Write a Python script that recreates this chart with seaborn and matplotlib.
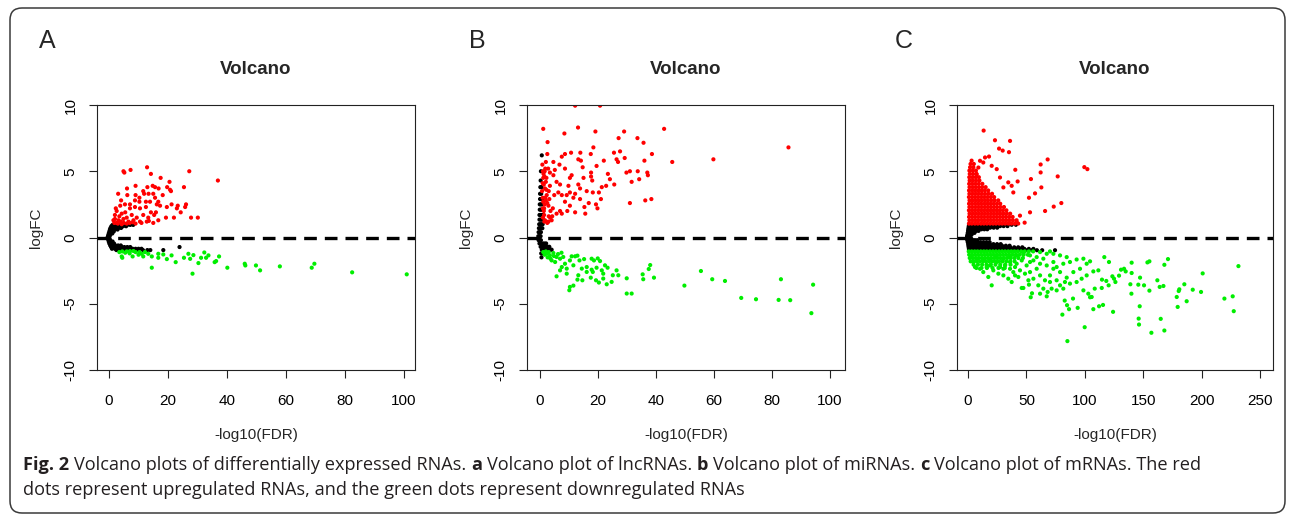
import matplotlib
matplotlib.use("Agg")
import matplotlib.pyplot as plt
import matplotlib.transforms as mtransforms
from matplotlib.patches import FancyBboxPatch
import numpy as np
import pandas as pd
import seaborn as sns

W, H = 1295, 517
sns.set_style("ticks")
plt.rcParams['font.family'] = ['Liberation Sans', 'DejaVu Sans']

# ---------------- data ----------------
PANEL_LETTERS = ["A", "B", "C"]
TITLE = "Volcano"
XLABEL = "-log10(FDR)"
YLABEL = "logFC"
A_XTICKS = [0, 20, 40, 60, 80, 100]
B_XTICKS = [0, 20, 40, 60, 80, 100]
C_XTICKS = [0, 50, 100, 150, 200, 250]
YTICKS = [-10, -5, 0, 5, 10]

# Panel A (lncRNAs)
A_UP = [(4.9, 5.0), (5.2, 4.9), (7.3, 5.1), (12.9, 5.3), (14.2, 4.8), (27.2, 5.0), (36.9, 4.3),
        (17.5, 4.5), (20.5, 4.2), (19.7, 3.8), (25.4, 3.8), (6.1, 3.7), (9.0, 3.9), (11.6, 3.5),
        (13.0, 3.8), (14.8, 3.9), (15.6, 3.8), (16.8, 3.7), (18.2, 3.2), (21.0, 3.5), (20.7, 3.6),
        (3.1, 3.3), (6.2, 3.2), (9.0, 3.2), (11.9, 3.3), (10.3, 3.0), (13.4, 3.3), (15.0, 3.3),
        (15.6, 3.0), (16.7, 2.7), (4.1, 2.8), (5.4, 2.5), (7.1, 2.5), (8.8, 2.8), (10.3, 2.7),
        (12.5, 2.7), (13.9, 2.7), (16.2, 2.5), (17.3, 2.4), (21.2, 2.5), (23.3, 2.4), (26.1, 2.5),
        (7.1, 2.2), (8.8, 2.3), (10.5, 2.2), (12.5, 2.3), (14.2, 1.9), (15.9, 1.9), (19.6, 2.3),
        (23.0, 2.2), (24.3, 1.9), (25.8, 2.3), (2.6, 2.0), (2.0, 1.7), (4.3, 1.8), (6.0, 1.5),
        (7.7, 1.7), (9.4, 1.5), (11.6, 1.7), (13.3, 1.5), (15.3, 1.7), (16.7, 1.3), (19.3, 1.5),
        (22.0, 1.5), (27.8, 1.5), (30.1, 1.5), (1.5, 1.3), (3.2, 1.3), (4.9, 1.4), (6.6, 1.2),
        (8.3, 1.3), (10.5, 1.2), (12.8, 1.2), (15.0, 1.1), (2.6, 1.1), (4.3, 1.0), (3.0, 1.05),
        (4.0, 1.2), (5.0, 1.1), (6.0, 1.05), (7.0, 1.1), (8.0, 1.15), (9.0, 1.05), (2.0, 1.4),
        (3.5, 1.6), (5.5, 1.9), (2.3, 2.2), (3.8, 2.4), (11.0, 1.1), (13.5, 1.25), (1.8, 1.1)]
A_DOWN = [(4.3, -1.43), (4.5, -1.53), (7.1, -1.03), (8.0, -1.43), (8.3, -1.02), (10.3, -1.1),
          (11.1, -1.23), (11.6, -1.43), (12.2, -1.1), (13.3, -1.23), (14.5, -1.43), (14.5, -2.28),
          (16.7, -1.23), (16.7, -1.53), (18.4, -1.28), (19.6, -1.63), (21.2, -1.35), (22.6, -1.86),
          (25.4, -1.53), (26.9, -1.23), (27.5, -1.61), (28.3, -2.73), (28.6, -1.33), (30.3, -1.93),
          (31.2, -1.53), (32.3, -1.13), (32.9, -1.53), (33.7, -1.35), (35.8, -1.86), (36.3, -1.78),
          (37.3, -1.43), (40.1, -2.28), (46.0, -1.98), (46.2, -2.11), (49.8, -2.11), (51.2, -2.48),
          (57.9, -2.18), (68.7, -2.28), (69.6, -1.98), (82.4, -2.63), (100.9, -2.78),
          (3.5, -1.1), (4.5, -1.05), (5.5, -1.15), (6.0, -1.05), (7.0, -1.2), (9.0, -1.1), (10.0, -1.3)]
A_NS_ROWS = [(0.95, [1.2, 2.2, 3.2, 4.2, 5.2, 6.2, 7.2, 8.2]),
             (0.85, [0.8, 1.8, 2.8, 3.8, 4.8, 5.8]),
             (0.72, [0.5, 1.4, 2.3, 3.2, 4.1]),
             (0.6, [0.3, 1.1, 2.0, 2.9]),
             (0.45, [0.1, 0.8, 1.6]),
             (0.3, [-0.1, 0.5, 1.1]),
             (0.15, [-0.3, 0.3]),
             (0.0, [-0.5, 0.1]),
             (-0.15, [-0.3, 0.3]),
             (-0.3, [-0.1, 0.6, 1.2]),
             (-0.45, [0.1, 0.9, 1.7]),
             (-0.6, [0.4, 1.3, 2.2, 3.1, 4.0]),
             (-0.72, [0.7, 1.6, 2.5, 3.4, 4.3, 5.2, 6.2, 7.2, 23.9]),
             (-0.85, [1.0, 2.0, 3.0, 4.0, 5.0, 6.0, 7.0, 8.0, 9.0, 10.0, 11.0]),
             (-0.95, [2.5, 4.0, 5.5, 7.0, 8.5, 10.0, 11.5, 13.0, 14.0, 18.4])]

# Panel B (miRNAs)
B_UP = [(12.1, 9.95), (20.7, 9.95), (1.1, 8.2), (13.1, 8.3), (8.4, 7.85), (19.1, 8.0), (29.0, 8.0),
        (42.8, 8.2), (27.1, 7.5), (33.6, 7.5), (35.7, 7.15), (2.6, 7.2), (18.4, 6.8), (10.7, 6.4),
        (13.9, 6.4), (7.5, 6.1), (8.6, 6.3), (17.5, 6.3), (25.5, 6.4), (27.6, 6.5), (38.6, 6.3),
        (26.4, 5.9), (29.2, 6.0), (26.9, 5.7), (22.0, 5.8), (13.2, 5.9), (14.1, 5.8), (14.7, 5.3),
        (19.5, 5.4), (23.4, 4.8), (29.8, 4.9), (31.0, 5.0), (33.7, 5.0), (36.0, 5.8), (37.0, 4.9),
        (37.2, 4.7), (45.6, 5.7), (59.8, 5.9), (85.7, 6.8), (2.5, 6.3), (2.0, 5.7), (4.6, 5.7),
        (6.7, 5.5), (8.6, 5.2), (5.1, 5.1), (10.3, 4.5), (10.9, 4.7), (15.0, 4.5), (17.6, 4.9),
        (17.6, 4.6), (18.0, 4.3), (24.1, 4.4), (25.6, 4.0), (22.8, 3.9), (31.6, 4.2), (34.2, 4.4),
        (21.3, 3.8), (31.0, 2.6), (36.3, 2.8), (38.4, 2.9), (16.1, 3.5), (18.2, 3.4), (20.3, 3.4),
        (21.0, 2.9), (19.3, 2.5), (19.8, 2.2), (16.8, 2.6), (15.3, 2.3), (15.6, 1.8), (13.8, 2.9),
        (11.5, 3.0), (12.1, 1.9), (9.4, 2.0), (10.3, 2.4), (8.6, 2.7), (7.5, 3.2), (6.3, 3.4),
        (4.9, 3.2), (3.2, 2.9), (2.9, 2.4), (4.4, 2.2), (5.7, 1.8), (7.5, 1.8), (1.4, 1.7),
        (1.7, 1.3), (2.9, 1.2), (3.4, 3.9), (5.7, 4.2), (6.9, 4.0), (9.8, 3.9), (10.3, 3.4),
        (13.2, 4.0), (13.8, 3.7), (4.6, 4.7), (3.4, 4.9), (1.1, 4.5), (0.9, 4.1), (1.7, 3.7),
        (2.3, 3.2), (1.1, 2.7), (4.0, 1.3), (6.9, 2.0), (9.2, 3.2), (12.1, 3.3),
        (1.0, 1.5), (1.4, 2.2), (1.8, 3.0), (2.2, 3.6), (1.3, 4.0), (1.6, 5.0), (2.8, 5.2),
        (2.0, 4.2), (3.0, 3.5), (2.5, 2.6), (3.6, 2.0), (4.2, 1.6), (1.5, 1.2), (2.5, 1.1),
        (0.8, 5.5), (1.0, 5.0), (1.2, 4.8), (1.5, 4.6), (1.8, 5.2), (2.2, 4.5), (0.7, 3.5),
        (0.9, 3.0), (1.0, 2.2), (1.3, 2.0), (1.6, 2.5), (2.0, 2.8), (3.0, 1.6), (3.5, 1.5)]
B_DOWN = [(1.1, -1.1), (2.3, -1.22), (3.4, -1.35), (4.6, -1.17), (5.7, -1.47), (4.0, -1.73),
          (5.2, -1.85), (6.9, -1.6), (8.0, -1.47), (8.6, -1.98), (7.5, -2.23), (9.2, -2.35),
          (10.3, -1.73), (10.9, -1.42), (12.1, -1.42), (12.9, -1.37), (13.6, -1.73), (15.2, -1.63),
          (16.1, -2.23), (17.8, -1.6), (18.6, -1.73), (19.9, -1.58), (20.7, -1.78), (22.4, -2.1),
          (23.3, -2.28), (26.4, -2.48), (27.0, -2.85), (5.7, -2.93), (13.2, -2.85), (12.9, -3.18),
          (14.6, -3.23), (17.5, -3.03), (18.2, -2.6), (19.3, -3.23), (20.3, -3.4), (21.8, -3.1),
          (23.0, -3.53), (24.7, -3.35), (25.1, -2.85), (10.3, -3.73), (10.1, -3.98), (11.5, -3.63),
          (29.9, -3.08), (35.4, -2.78), (35.6, -3.15), (37.5, -2.38), (38.0, -2.08), (39.3, -3.03),
          (29.9, -4.23), (31.6, -4.23), (49.8, -3.63), (55.5, -2.53), (59.4, -3.15), (63.8, -3.28),
          (69.4, -4.56), (74.5, -4.66), (82.3, -4.71), (83.1, -3.15), (86.3, -4.73), (94.2, -3.56),
          (93.6, -5.71), (16.1, -2.6), (21.3, -2.48), (9.2, -2.73), (11.5, -2.1), (14.4, -2.35),
          (17.8, -2.43), (21.8, -2.73), (19.5, -2.28), (6.9, -2.48), (2.0, -1.05), (3.0, -1.1),
          (1.6, -1.3), (2.6, -1.5), (3.6, -1.6), (4.8, -1.4), (6.2, -1.25), (7.4, -1.15)]
B_NS_ROWS = [(6.2, [0.6]), (5.0, [0.3]), (4.3, [0.2]), (3.8, [0.1, 0.5]), (3.3, [0.0, 0.4]),
             (2.9, [0.0, 0.3, 0.7]), (2.5, [-0.1, 0.3, 0.7]), (2.1, [-0.1, 0.3, 0.7, 1.0]),
             (1.7, [-0.2, 0.2, 0.6, 1.0]), (1.35, [-0.2, 0.2, 0.6, 1.0]),
             (1.0, [-0.3, 0.1, 0.5, 0.9]), (0.7, [-0.4, 0.0, 0.4, 0.8]), (0.4, [-0.5, -0.1, 0.3]),
             (0.1, [-0.6, -0.2, 0.2]), (-0.2, [-0.5, -0.1, 0.3]),
             (-0.45, [-0.2, 0.3, 0.9, 1.5, 2.1]), (-0.7, [0.2, 0.8, 1.4, 2.0, 2.6, 3.2]),
             (-0.92, [0.6, 1.2, 1.8, 2.4, 3.0, 3.6, 4.0]), (-1.2, [0.4, 0.9]), (-1.5, [0.5])]

# Panel C (mRNAs)
C_UP = [(13.4, 8.07), (23.1, 7.34), (36.0, 7.29), (26.6, 6.71), (29.7, 6.56), (35.1, 6.44),
        (18.0, 6.11), (14.6, 6.04), (68.2, 5.89), (62.2, 5.51), (99.6, 5.31), (102.2, 5.16),
        (40.5, 5.11), (62.2, 4.91), (76.8, 4.61), (53.9, 4.41), (42.5, 4.23), (62.8, 3.78),
        (57.4, 3.33), (52.2, 3.0), (79.9, 2.6), (73.4, 2.33), (66.0, 2.0), (48.5, 1.12),
        (53.1, 1.9), (44.5, 1.65), (41.7, 1.15), (37.4, 3.9), (38.8, 3.4), (34.5, 4.16),
        (30.3, 3.78), (27.4, 4.53), (24.6, 5.16), (20.3, 5.41), (13.1, 5.66), (10.3, 5.79),
        (8.9, 5.28), (7.4, 4.78)]
C_UP_ROWS = [(1.05, [0.8, 3.2, 5.9, 8.4, 11.1, 13.6, 16.2, 18.9, 21.5, 24.0, 26.8, 29.3, 31.9, 34.6, 37.2, 40.1, 43.0]),
             (1.3, [1.2, 3.9, 6.5, 9.0, 11.8, 14.3, 17.0, 19.6, 22.2, 24.9, 27.5, 30.2, 32.8, 35.5, 38.4, 41.6]),
             (1.55, [0.9, 3.5, 6.1, 8.8, 11.4, 14.0, 16.7, 19.2, 21.9, 24.5, 27.2, 29.8, 32.5, 35.3, 38.2]),
             (1.8, [1.3, 4.0, 6.6, 9.2, 11.9, 14.5, 17.1, 19.8, 22.4, 25.1, 27.7, 30.4, 33.2, 36.1]),
             (2.05, [0.8, 3.4, 6.0, 8.7, 11.3, 13.9, 16.6, 19.2, 21.8, 24.5, 27.1, 29.9, 32.9]),
             (2.3, [1.2, 3.8, 6.5, 9.1, 11.7, 14.4, 17.0, 19.6, 22.3, 24.9, 27.8, 30.8]),
             (2.55, [0.9, 3.5, 6.2, 8.8, 11.4, 14.1, 16.7, 19.3, 22.0, 24.8, 27.6]),
             (2.8, [1.3, 3.9, 6.6, 9.2, 11.8, 14.5, 17.1, 19.9, 22.8, 25.9]),
             (3.05, [0.8, 3.5, 6.1, 8.7, 11.4, 14.0, 16.7, 19.5, 22.4]),
             (3.3, [1.2, 3.9, 6.5, 9.1, 11.8, 14.6, 17.5, 20.6]),
             (3.55, [0.9, 3.6, 6.2, 8.9, 11.6, 14.4, 17.3]),
             (3.8, [1.3, 4.0, 6.7, 9.4, 12.2, 15.1]),
             (4.05, [1.0, 3.7, 6.4, 9.2, 12.3]),
             (4.3, [1.4, 4.1, 6.9, 9.8]),
             (4.55, [1.1, 3.8, 6.6, 9.3]),
             (4.8, [1.5, 4.3, 7.2]),
             (5.05, [1.2, 4.0, 6.8]),
             (5.3, [1.8, 4.6]),
             (5.55, [2.2, 5.0]),
             (5.8, [3.1])]
C_DOWN = [(231.5, -2.16), (200.9, -2.71), (226.6, -4.44), (219.5, -4.61), (227.5, -5.56),
          (187.2, -4.81), (179.5, -5.24), (178.7, -4.49), (185.2, -3.53), (192.4, -3.94),
          (199.5, -4.11), (180.9, -3.91), (180.4, -4.04), (171.2, -1.63), (168.1, -2.06),
          (164.1, -3.73), (167.3, -3.66), (162.1, -3.23), (155.3, -4.01), (147.0, -5.19),
          (146.1, -6.12), (146.4, -6.57), (165.0, -6.14), (168.1, -7.02), (157.0, -7.19),
          (153.6, -1.88), (155.3, -1.8), (140.1, -1.9), (140.1, -2.68), (139.0, -3.53),
          (139.9, -4.24), (147.3, -3.03), (145.8, -3.56), (150.7, -3.61), (133.6, -2.36),
          (135.0, -2.56), (131.0, -2.43), (129.3, -2.88), (125.0, -3.11), (126.2, -3.36),
          (123.6, -2.93), (120.4, -3.61), (120.7, -1.85), (116.7, -1.48), (118.4, -3.28),
          (114.7, -3.18), (114.5, -3.81), (115.6, -5.09), (112.2, -5.19), (107.3, -5.41),
          (99.9, -6.77), (124.2, -5.61), (85.1, -7.82), (80.8, -5.82), (86.5, -5.41),
          (84.8, -5.11), (82.8, -4.76), (93.9, -5.31), (89.9, -4.61), (104.5, -4.51),
          (108.5, -3.86), (54.8, -4.21), (53.7, -4.51), (67.4, -4.44), (68.2, -4.11),
          (20.3, -3.61), (46.0, -3.81), (47.4, -3.81), (52.2, -3.56), (71.6, -3.86),
          (75.9, -3.99), (81.6, -3.86), (98.8, -3.99), (103.0, -4.24), (105.9, -4.49),
          (93.0, -3.36), (97.3, -3.11), (101.6, -2.86), (107.3, -2.56), (111.6, -2.48),
          (101.6, -1.98), (104.5, -1.8), (98.8, -1.6), (93.0, -1.66), (87.3, -1.85),
          (81.6, -1.98), (84.5, -1.48), (78.8, -1.35), (73.1, -1.23), (70.2, -1.05),
          (67.4, -1.23), (64.5, -1.6), (61.7, -1.98), (58.8, -2.36), (61.7, -2.86),
          (65.9, -3.23), (70.2, -2.86), (73.1, -2.36), (78.8, -2.61), (84.5, -3.03),
          (87.3, -3.48), (90.2, -2.61), (95.9, -2.36), (56.0, -3.11), (53.1, -2.61),
          (50.2, -2.11), (46.0, -1.73), (41.7, -1.98), (38.8, -2.61), (43.1, -2.98),
          (36.0, -2.36), (31.7, -2.11), (27.4, -2.23), (24.6, -1.85), (18.8, -2.11),
          (13.1, -2.61), (10.3, -2.36), (6.0, -2.23), (4.6, -1.85), (3.2, -1.35),
          (7.4, -1.6), (13.1, -1.73), (18.8, -1.6), (24.6, -1.48), (30.3, -1.6),
          (36.0, -1.48), (41.7, -1.35), (47.4, -1.23), (53.1, -1.35), (56.0, -1.73),
          (30.3, -2.86), (34.5, -3.11), (37.4, -3.36), (40.3, -2.86), (44.5, -2.48),
          (48.8, -2.73), (51.7, -3.23), (60.2, -3.61), (64.5, -3.86), (61.7, -4.24),
          (70.2, -3.36), (75.9, -3.23), (78.8, -3.61), (83.0, -3.36), (73.1, -1.85),
          (75.9, -2.23), (67.4, -2.11), (16.0, -2.23), (21.7, -2.48), (26.0, -2.73),
          (17.4, -2.98), (30.3, -2.36), (36.0, -1.85), (40.3, -2.23), (53.1, -1.85),
          (58.8, -1.48), (61.7, -1.1)]
C_DOWN_ROWS = [(-1.05, [0.6, 3.1, 5.7, 8.2, 10.9, 13.5, 16.0, 18.7, 21.3, 23.9, 26.6, 29.2, 31.8, 34.5, 37.1, 39.8, 42.6, 45.5, 48.6, 52.0, 55.8]),
               (-1.3, [1.0, 3.6, 6.2, 8.8, 11.4, 14.1, 16.7, 19.3, 21.9, 24.6, 27.2, 29.9, 32.6, 35.3, 38.1, 41.0, 44.2, 47.6, 51.3]),
               (-1.55, [1.5, 4.1, 6.7, 9.3, 12.0, 14.6, 17.2, 19.9, 22.5, 25.2, 27.9, 30.7, 33.6, 36.6, 39.8, 43.2, 47.0]),
               (-1.8, [2.3, 5.0, 7.6, 10.2, 12.9, 15.5, 18.2, 20.9, 23.7, 26.6, 29.6, 32.8, 36.2, 39.9]),
               (-2.05, [4.8, 8.5, 12.1, 15.8, 19.6, 23.5, 27.6, 31.9, 36.4]),
               (-2.3, [7.2, 11.6, 16.2, 21.0, 26.1, 31.5])]
C_NS_ROWS = [(0.08, [-0.8, 0.2, 1.0]),
             (0.2, [-0.5, 0.6, 1.8, 3.0]),
             (0.35, [-0.2, 1.0, 2.5, 4.0, 5.6]),
             (0.5, [0.1, 1.5, 3.2, 5.0, 7.0, 9.0]),
             (0.62, [0.3, 2.0, 4.2, 6.5, 9.0, 11.5, 14.0, 16.5]),
             (0.74, [0.5, 2.6, 5.0, 7.6, 10.3, 13.0, 16.0, 19.0, 22.0, 25.0]),
             (0.86, [0.7, 3.0, 5.6, 8.2, 10.9, 13.6, 16.3, 19.0, 21.8, 24.6, 27.5, 30.5, 33.8]),
             (0.96, [0.9, 3.5, 6.1, 8.7, 11.4, 14.0, 16.7, 19.4, 22.1, 24.9, 27.8, 30.8, 34.0, 37.4, 41.0]),
             (-0.08, [-0.9, 0.3, 1.5, 2.8]),
             (-0.2, [-0.6, 0.9, 2.5, 4.2, 6.0, 8.0]),
             (-0.35, [-0.2, 1.8, 3.9, 6.1, 8.4, 10.8, 13.3, 15.9, 18.5]),
             (-0.5, [0.2, 2.6, 5.1, 7.7, 10.4, 13.1, 15.9, 18.8, 21.8, 24.9, 28.0]),
             (-0.62, [0.4, 3.0, 5.7, 8.4, 11.2, 14.0, 16.9, 19.9, 22.9, 26.0, 29.2, 32.4, 35.6]),
             (-0.74, [0.6, 3.3, 6.0, 8.8, 11.6, 14.5, 17.4, 20.4, 23.4, 26.5, 29.7, 32.9, 36.2, 39.6, 43.0, 46.5]),
             (-0.86, [0.8, 3.6, 6.4, 9.3, 12.2, 15.2, 18.2, 21.3, 24.4, 27.6, 30.8, 34.1, 37.5, 41.0, 44.6, 48.3, 52.1, 56.0]),
             (-0.96, [1.0, 3.9, 6.8, 9.7, 12.7, 15.7, 18.8, 22.0, 25.2, 28.5, 31.9, 35.4, 39.0, 42.8, 46.7, 50.8, 55.0, 59.0, 63.5, 74.5])]

CAPTION_LINE1 = [("Fig. 2", True), (" Volcano plots of differentially expressed RNAs. ", False),
                 ("a", True), (" Volcano plot of lncRNAs. ", False),
                 ("b", True), (" Volcano plot of miRNAs. ", False),
                 ("c", True), (" Volcano plot of mRNAs. The red", False)]
CAPTION_LINE2 = [("dots represent upregulated RNAs, and the green dots represent downregulated RNAs", False)]


def rows_to_points(rows):
    return [(x, y) for y, xs in rows for x in xs]


def make_df(ns, up, down):
    parts = []
    for pts, grp in ((ns, "ns"), (up, "up"), (down, "down")):
        d = pd.DataFrame(pts, columns=["fdr", "logfc"])
        d["group"] = grp
        parts.append(d)
    return pd.concat(parts, ignore_index=True)


panels = [
    dict(df=make_df(rows_to_points(A_NS_ROWS), A_UP, A_DOWN), box=(97, 415), xlim=(-4.07, 103.7),
         xticks=A_XTICKS, letter_x=47),
    dict(df=make_df(rows_to_points(B_NS_ROWS), B_UP, B_DOWN), box=(527, 845), xlim=(-4.5, 105.2),
         xticks=B_XTICKS, letter_x=477),
    dict(df=make_df(rows_to_points(C_NS_ROWS), C_UP + rows_to_points(C_UP_ROWS),
                    C_DOWN + rows_to_points(C_DOWN_ROWS)), box=(957, 1273), xlim=(-9.4, 261.1),
         xticks=C_XTICKS, letter_x=904),
]

TOP, BOTTOM = 105, 370
palette = {"ns": "#000000", "up": "#FF0000", "down": "#00EE00"}

fig = plt.figure(figsize=(W / 100, H / 100), dpi=100)

for p, letter in zip(panels, PANEL_LETTERS):
    l, r = p["box"]
    ax = fig.add_axes([l / W, 1 - BOTTOM / H, (r - l) / W, (BOTTOM - TOP) / H])
    sns.scatterplot(data=p["df"], x="fdr", y="logfc", hue="group", palette=palette,
                    s=9, linewidth=0, legend=False, ax=ax, zorder=2)
    ax.axhline(0, color="black", lw=2.4, dashes=(3.8, 2.4), zorder=3)
    ax.set_xlim(*p["xlim"])
    ax.set_ylim(-10, 10)
    ax.set_xticks(p["xticks"])
    ax.set_yticks(YTICKS)
    ax.set_xticklabels([str(t) for t in p["xticks"]])
    ax.set_yticklabels([str(t) for t in YTICKS], rotation=90, va="center")
    for sp in ax.spines.values():
        sp.set_visible(True)
        sp.set_linewidth(0.8)
        sp.set_color("#222222")
    ax.tick_params(axis="both", direction="out", length=6, width=0.8, color="#222222",
                   labelsize=11, labelcolor="black")
    ax.tick_params(axis="x", pad=11)
    ax.tick_params(axis="y", pad=8)
    ax.set_xlabel("")
    ax.set_ylabel("")
    cx = (l + r) / 2
    fig.text(cx / W, 1 - 435 / H, XLABEL, ha="center", va="center", fontsize=11)
    fig.text((l - 61) / W, 1 - 228 / H, YLABEL, ha="center", va="center", rotation=90, fontsize=11)
    fig.text(cx / W, 1 - 69 / H, TITLE, ha="center", va="center", fontsize=13.5, fontweight="bold")
    fig.text(p["letter_x"] / W, 1 - 41 / H, letter, ha="center", va="center", fontsize=18)

# rounded frame around the whole figure
frame = FancyBboxPatch((10, 4), W - 20, H - 12, boxstyle="round,pad=0,rounding_size=12",
                       transform=mtransforms.IdentityTransform(), fill=False,
                       edgecolor="#3a3a3a", linewidth=1.1)
fig.patches.append(frame)

# caption with mixed bold runs
renderer = fig.canvas.get_renderer()
CAP_FONT = ["Open Sans", "DejaVu Sans"]
CAP_SIZE = 13.1
CAP_COLOR = "#231f20"


def text_width(s, bold):
    t = fig.text(0, 0, s, fontsize=CAP_SIZE, family=CAP_FONT, fontweight="bold" if bold else "normal")
    w = t.get_window_extent(renderer).width
    t.remove()
    return w


space_w = text_width("a a", False) - text_width("aa", False)


def draw_runs(runs, x0, y_base):
    x = x0
    for s, bold in runs:
        lead = len(s) - len(s.lstrip(" "))
        trail = len(s) - len(s.rstrip(" "))
        core = s.strip(" ")
        x += lead * space_w
        fig.text(x / W, 1 - y_base / H, core, fontsize=CAP_SIZE, family=CAP_FONT,
                 fontweight="bold" if bold else "normal", color=CAP_COLOR, ha="left", va="baseline")
        x += text_width(core, bold) + trail * space_w


draw_runs(CAPTION_LINE1, 23, 470)
draw_runs(CAPTION_LINE2, 23, 495)

fig.savefig("out.png", dpi=100)
